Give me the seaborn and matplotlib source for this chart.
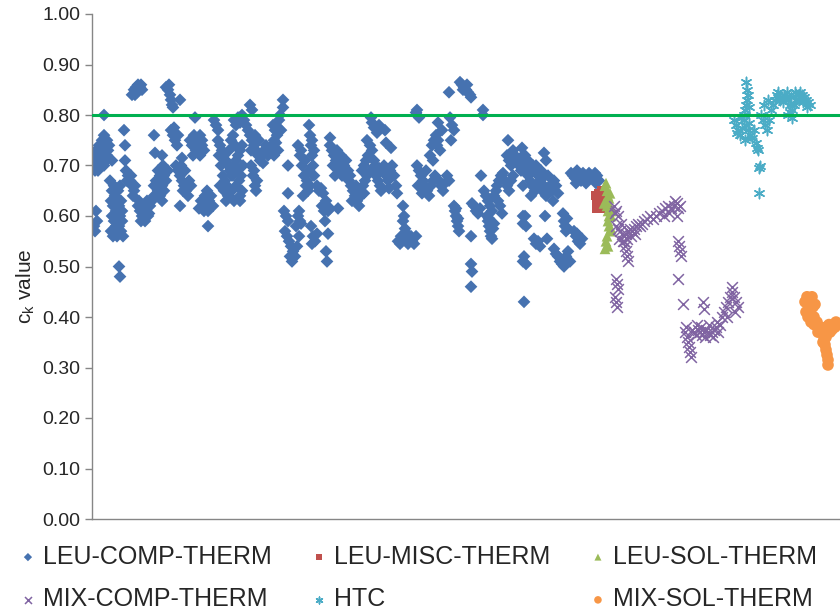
import numpy as np
import pandas as pd
import matplotlib
matplotlib.use("Agg")
import matplotlib.pyplot as plt
import seaborn as sns

# case index, c_k value
leu_comp = [
    (1,0.70),(2,0.72),(3,0.71),(4,0.73),(5,0.70),(6,0.72),(7,0.74),(8,0.71),(9,0.73),(10,0.75),
    (11,0.72),(12,0.76),(13,0.74),(14,0.71),(15,0.75),(16,0.73),(3,0.69),(6,0.69),(9,0.70),(12,0.70),
    (15,0.72),(17,0.74),(2,0.58),(4,0.61),(5,0.59),(3,0.57),(12,0.80),
    (18,0.67),(20,0.65),(22,0.66),(19,0.63),(21,0.62),(23,0.64),(24,0.61),(25,0.63),(20,0.60),
    (22,0.59),(24,0.58),(26,0.60),(27,0.62),(19,0.57),(21,0.56),(23,0.57),(25,0.56),(27,0.58),
    (28,0.60),(29,0.63),(30,0.61),(26,0.65),(28,0.66),(30,0.59),(29,0.57),(31,0.56),(27,0.50),
    (28,0.48),(20,0.71),
    (32,0.77),(33,0.74),(33,0.71),(34,0.69),(36,0.68),(38,0.67),(40,0.66),(42,0.65),(35,0.67),
    (39,0.68),(41,0.64),(43,0.66),
    (40,0.84),(42,0.85),(44,0.855),(46,0.86),(48,0.855),(50,0.85),(45,0.845),(49,0.86),(43,0.84),
    (46,0.62),(48,0.61),(50,0.60),(52,0.62),(54,0.61),(56,0.60),(58,0.62),(60,0.63),(62,0.64),
    (49,0.59),(53,0.59),(57,0.605),(47,0.63),(55,0.63),
    (62,0.76),(63,0.725),(62,0.66),(64,0.67),(66,0.69),(68,0.68),(70,0.66),(72,0.65),(74,0.67),
    (66,0.65),(68,0.64),(70,0.63),(72,0.68),(64,0.64),(76,0.69),(70,0.72),(71,0.70),
    (74,0.855),(76,0.85),(78,0.84),(79,0.83),(80,0.82),(77,0.86),(81,0.815),(88,0.83),
    (79,0.77),(81,0.76),(83,0.75),(85,0.74),(82,0.775),(86,0.76),
    (84,0.70),(86,0.69),(88,0.68),(90,0.67),(92,0.66),(94,0.65),(96,0.64),(89,0.70),(93,0.69),
    (97,0.67),(99,0.66),(91,0.65),(88,0.62),(90,0.715),
    (103,0.795),(98,0.75),(100,0.74),(102,0.76),(104,0.73),(106,0.75),(108,0.72),(110,0.74),
    (101,0.72),(107,0.615),
    (108,0.76),(110,0.75),(112,0.73),(109,0.74),
    (109,0.63),(111,0.62),(113,0.64),(115,0.65),(117,0.63),(119,0.64),(121,0.62),(112,0.61),
    (116,0.61),(116,0.58),
    (122,0.79),(124,0.78),(126,0.77),
    (126,0.75),(128,0.74),(130,0.73),(132,0.72),(134,0.71),(136,0.70),(138,0.69),(140,0.68),
    (142,0.70),(144,0.71),(146,0.72),(148,0.73),(150,0.74),(127,0.72),(129,0.70),(131,0.68),
    (133,0.67),(135,0.66),(137,0.73),(139,0.75),(141,0.76),(143,0.74),(145,0.69),(147,0.67),
    (149,0.68),(151,0.70),
    (128,0.66),(132,0.65),(136,0.64),(140,0.65),(144,0.66),(148,0.64),(150,0.65),(134,0.63),
    (142,0.63),(148,0.63),
    (142,0.79),(144,0.78),(146,0.795),(148,0.785),(150,0.80),(152,0.79),(154,0.78),
    (158,0.82),(160,0.81),
    (156,0.77),(158,0.76),(160,0.75),(162,0.74),(164,0.73),(166,0.72),(168,0.71),(170,0.72),
    (172,0.73),(174,0.74),(159,0.73),(163,0.76),(167,0.75),(171,0.705),
    (159,0.70),(161,0.68),(163,0.66),(164,0.65),(162,0.69),(165,0.67),
    (176,0.72),(178,0.73),(180,0.74),(182,0.72),(184,0.745),(186,0.73),
    (181,0.78),(183,0.77),(185,0.76),(187,0.79),(188,0.80),(186,0.775),(182,0.75),(189,0.77),
    (191,0.83),(191,0.815),(196,0.70),(196,0.645),
    (192,0.61),(194,0.60),(196,0.59),(193,0.57),(195,0.56),(197,0.55),(199,0.54),(201,0.53),
    (198,0.52),(200,0.51),(203,0.52),(205,0.54),(207,0.56),(204,0.58),(206,0.60),(208,0.59),
    (206,0.74),(208,0.72),(210,0.70),(212,0.68),(214,0.66),(216,0.65),(209,0.73),(213,0.71),
    (217,0.69),(215,0.67),(211,0.64),(207,0.61),(209,0.585),
    (217,0.78),(218,0.76),(219,0.74),(220,0.72),(221,0.70),(222,0.68),(218,0.66),(220,0.75),
    (222,0.73),(225,0.66),(227,0.65),(229,0.655),(231,0.645),
    (230,0.62),(232,0.61),(234,0.63),(236,0.61),(238,0.615),(233,0.59),
    (219,0.58),(221,0.56),(223,0.55),(225,0.565),(220,0.545),(236,0.565),(234,0.53),(235,0.51),
    (238,0.755),(238,0.74),(240,0.73),(242,0.72),(244,0.71),(246,0.70),(248,0.69),(250,0.68),
    (252,0.70),(254,0.71),(256,0.69),(241,0.70),(245,0.73),(249,0.72),(253,0.68),(243,0.68),
    (258,0.68),(246,0.615),
    (257,0.67),(259,0.66),(261,0.65),(263,0.64),(265,0.63),(267,0.62),(269,0.64),(271,0.66),
    (273,0.67),(275,0.68),(260,0.63),(264,0.66),(268,0.65),(272,0.645),
    (270,0.69),(272,0.70),(274,0.71),(276,0.72),(278,0.74),(280,0.73),(282,0.71),(275,0.75),
    (279,0.69),(283,0.70),
    (279,0.795),(280,0.785),(282,0.775),(285,0.765),(287,0.78),(293,0.77),(294,0.745),
    (284,0.68),(286,0.67),(288,0.66),(290,0.69),(292,0.70),(294,0.68),(296,0.67),(298,0.69),
    (300,0.70),(302,0.68),(304,0.66),(289,0.65),(297,0.655),(305,0.645),(287,0.695),
    (299,0.735),(311,0.62),
    (306,0.55),(308,0.545),(310,0.55),(312,0.56),(314,0.55),(316,0.545),(318,0.555),(320,0.55),
    (322,0.545),(309,0.56),(313,0.575),(311,0.59),(315,0.565),(319,0.56),(312,0.60),
    (324,0.805),(325,0.81),(325,0.80),(327,0.795),
    (325,0.70),(327,0.69),(329,0.68),(331,0.67),(333,0.66),(335,0.65),(337,0.64),(339,0.66),
    (341,0.67),(343,0.68),(326,0.66),(330,0.645),(334,0.69),(324,0.56),
    (338,0.72),(340,0.74),(342,0.75),(344,0.76),(346,0.75),(348,0.73),(341,0.71),(345,0.74),
    (350,0.77),(346,0.785),
    (347,0.67),(349,0.66),(351,0.65),(353,0.665),(355,0.68),(357,0.67),(357,0.845),
    (368,0.865),(370,0.86),(372,0.855),(374,0.85),(376,0.845),(378,0.84),(371,0.85),(375,0.86),
    (379,0.835),
    (358,0.795),(360,0.78),(362,0.77),(359,0.75),
    (362,0.62),(363,0.61),(364,0.60),(365,0.59),(366,0.58),(367,0.57),(364,0.615),(366,0.595),
    (379,0.56),(379,0.505),(380,0.49),(379,0.46),
    (380,0.625),(382,0.62),(384,0.61),(386,0.605),(388,0.615),(389,0.68),(391,0.81),(391,0.80),
    (395,0.60),(396,0.59),(397,0.58),(398,0.57),(399,0.56),(400,0.555),(401,0.575),(402,0.585),
    (397,0.595),
    (392,0.65),(394,0.64),(396,0.63),(398,0.62),(400,0.61),(402,0.64),(404,0.65),(406,0.63),
    (408,0.62),(410,0.605),
    (405,0.66),(407,0.67),(409,0.68),(411,0.685),(413,0.67),(415,0.66),(417,0.65),(419,0.67),
    (421,0.68),(416,0.75),
    (415,0.72),(417,0.71),(419,0.70),(421,0.73),(423,0.72),(425,0.71),(427,0.70),(429,0.69),
    (431,0.72),(433,0.70),(431,0.66),(431,0.60),(431,0.585),(431,0.51),(432,0.43),
    (430,0.735),(433,0.72),(436,0.71),(452,0.725),(454,0.71),
    (432,0.70),(434,0.69),(436,0.68),(438,0.67),(440,0.66),(442,0.69),(444,0.70),(446,0.68),
    (448,0.67),(450,0.65),(452,0.66),(454,0.64),(456,0.68),(458,0.66),(460,0.65),(462,0.67),
    (464,0.66),(466,0.645),(441,0.70),(445,0.66),(449,0.69),(453,0.68),(457,0.655),(461,0.63),
    (439,0.64),(443,0.65),
    (433,0.60),(434,0.58),(453,0.60),
    (471,0.605),(472,0.59),(473,0.58),(474,0.57),(475,0.595),(476,0.575),
    (442,0.555),(444,0.545),(446,0.55),(448,0.54),(455,0.555),
    (482,0.57),(484,0.56),(486,0.55),(488,0.545),(490,0.555),(485,0.565),
    (462,0.535),(464,0.525),(466,0.52),(468,0.51),(470,0.505),(472,0.50),(474,0.52),(476,0.53),
    (478,0.51),(432,0.52),(434,0.505),
    (479,0.685),(481,0.68),(483,0.675),(485,0.69),(487,0.68),(489,0.67),(491,0.685),(493,0.68),
    (495,0.67),(497,0.685),(499,0.68),(501,0.675),(503,0.685),(505,0.68),(507,0.67),(484,0.665),
    (494,0.665),(504,0.665),
]

leu_misc = [(504,0.64),(505,0.63),(506,0.62),(507,0.645),(508,0.635),(509,0.625),(510,0.65),
            (505,0.615),(508,0.615),(510,0.64)]

leu_sol = [(513,0.66),(514,0.665),(515,0.65),(516,0.64),(517,0.635),(514,0.63),(515,0.62),
           (516,0.61),(517,0.60),(518,0.62),(516,0.59),(517,0.58),(518,0.57),(515,0.56),
           (514,0.55),(513,0.535),(516,0.54),(519,0.60),(520,0.61),(518,0.645),(512,0.625),
           (519,0.575)]

mix_comp = [(522,0.62),(524,0.61),(526,0.60),(523,0.605),
            (524,0.58),(526,0.575),(528,0.57),(530,0.565),(532,0.56),(534,0.565),(536,0.57),
            (538,0.575),(540,0.57),(542,0.575),(544,0.58),(546,0.585),(548,0.58),(550,0.585),
            (527,0.555),(531,0.55),(535,0.555),(539,0.56),(543,0.565),(529,0.585),
            (552,0.59),(555,0.595),(558,0.60),(561,0.595),(564,0.60),(567,0.605),(570,0.61),
            (573,0.615),(576,0.62),(579,0.615),(582,0.62),(585,0.625),(588,0.62),(572,0.60),
            (577,0.605),(583,0.63),(586,0.615),(585,0.60),
            (532,0.55),(533,0.54),(534,0.53),(535,0.52),(536,0.51),
            (586,0.55),(587,0.54),(588,0.53),(589,0.52),(586,0.475),(591,0.425),
            (524,0.475),(525,0.465),(526,0.455),(523,0.44),(524,0.43),(525,0.42),
            (593,0.37),(595,0.36),(596,0.35),(597,0.34),(598,0.33),(599,0.32),(594,0.38),(600,0.375),
            (602,0.37),(604,0.365),(606,0.375),(608,0.37),(610,0.365),(612,0.37),(614,0.375),
            (616,0.37),(618,0.365),(620,0.37),(622,0.375),(624,0.38),(626,0.37),(628,0.385),
            (605,0.385),(609,0.38),(613,0.36),(617,0.385),(621,0.36),(625,0.39),
            (611,0.43),(612,0.415),
            (630,0.40),(632,0.41),(634,0.42),(636,0.43),(638,0.44),(640,0.45),(642,0.44),
            (644,0.43),(640,0.46),(646,0.42),(635,0.40),(643,0.41)]

htc = [(642,0.79),(644,0.78),(646,0.77),(648,0.76),(650,0.775),(652,0.79),(654,0.78),(656,0.77),
       (658,0.76),(660,0.755),(662,0.77),(645,0.765),(649,0.795),(653,0.75),(657,0.785),
       (652,0.80),(653,0.81),(654,0.82),(655,0.83),(656,0.84),(655,0.85),(654,0.865),(657,0.815),
       (664,0.745),(665,0.735),(666,0.73),(668,0.70),(667,0.695),(667,0.645),
       (669,0.80),(671,0.79),(673,0.78),(675,0.77),(677,0.79),(679,0.81),(681,0.82),(683,0.83),
       (685,0.84),(672,0.82),(676,0.83),
       (688,0.83),(690,0.835),(692,0.84),(694,0.835),(696,0.83),(698,0.82),(700,0.81),(702,0.82),
       (704,0.83),(706,0.84),(708,0.845),(710,0.84),(712,0.835),(714,0.83),(716,0.825),(718,0.82),
       (691,0.825),(695,0.845),(699,0.835),(703,0.845),(707,0.83),(711,0.825),(715,0.815),
       (686,0.845),(696,0.80),(698,0.805),(700,0.795)]

mix_sol = [(713,0.43),(715,0.44),(717,0.435),(719,0.43),(721,0.42),(723,0.425),(714,0.41),
           (718,0.415),(722,0.40),(716,0.40),(720,0.44),
           (719,0.39),(722,0.385),(725,0.39),(728,0.38),(731,0.375),(734,0.38),(737,0.385),
           (740,0.375),(743,0.38),(726,0.37),(732,0.365),(738,0.37),(744,0.39),
           (732,0.355),(733,0.345),(734,0.335),(735,0.325),(736,0.315),(736,0.305),(731,0.35),
           (734,0.36)]

limit = 0.80

series = [
    ("LEU-COMP-THERM", leu_comp, "D", "#4672B0", 42),
    ("LEU-MISC-THERM", leu_misc, "s", "#C0504D", 45),
    ("LEU-SOL-THERM", leu_sol, "^", "#9BBB59", 60),
    ("MIX-COMP-THERM", mix_comp, "x", "#8064A2", 60),
    ("HTC", htc, (6, 2, 0), "#4BACC6", 55),
    ("MIX-SOL-THERM", mix_sol, "o", "#F79646", 70),
]

sns.set_style("white")
plt.rcParams["font.family"] = ["Liberation Sans", "DejaVu Sans"]

fig = plt.figure(figsize=(8.4, 6.13), dpi=100)
ax = fig.add_axes([92/840, 94/613, 1 - 92/840, 505/613])

for name, pts, mk, col, sz in series:
    df = pd.DataFrame(pts, columns=["case", "ck"])
    lw = 1.1 if mk in ("x", (6, 2, 0)) else 0
    sns.scatterplot(data=df, x="case", y="ck", marker=mk, color=col, s=sz,
                    linewidth=lw, edgecolor=col if lw else "none", ax=ax, label=name)

ax.axhline(limit, color="#00B050", lw=2.2, zorder=5)

ax.set_xlim(0, 748)
ax.set_ylim(0, 1.0)
ax.set_yticks(np.arange(0, 1.01, 0.1))
ax.set_yticklabels([f"{v:.2f}" for v in np.arange(0, 1.01, 0.1)], fontsize=14)
ax.set_xticks([])
ax.set_xlabel("")
ax.set_ylabel("c$_\\mathregular{k}$ value", fontsize=15)
ax.yaxis.set_label_coords(-0.073, 0.46)
ax.tick_params(axis="y", length=5, color="#868686", width=1, direction="out", left=True)
for side in ("top", "right"):
    ax.spines[side].set_visible(False)
for side in ("left", "bottom"):
    ax.spines[side].set_color("#868686")
    ax.spines[side].set_linewidth(1)

h, l = ax.get_legend_handles_labels()
ax.get_legend().remove()
order = [0, 3, 1, 4, 2, 5]
fig.legend([h[i] for i in order], [l[i] for i in order], ncol=3, loc="upper left",
           bbox_to_anchor=(0.005, 0.14), frameon=False, fontsize=18, markerscale=0.65,
           handlelength=0.5, handletextpad=0.35, columnspacing=1.65, labelspacing=0.75,
           borderpad=0.2)

fig.savefig("out.png", dpi=100)
